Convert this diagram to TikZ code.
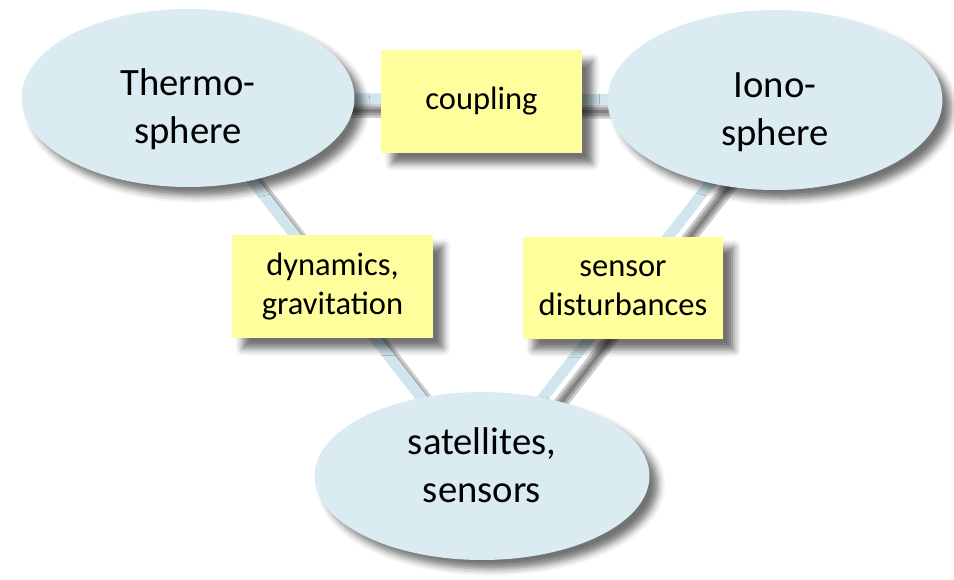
\documentclass[tikz,border=0pt]{standalone}
\usepackage{fontspec}
\setmainfont{Carlito}
\usetikzlibrary{shapes.geometric,shadows.blur,backgrounds}

\definecolor{regionblue}{HTML}{DAECF2}
\definecolor{noteyellow}{HTML}{FFFE9C}
\definecolor{linkblue}{HTML}{D0E5ED}

\begin{document}
\begin{tikzpicture}[x=0.02cm,y=-0.02cm,
    region/.style={ellipse,fill=regionblue,inner sep=0pt,align=center,
      font=\fontsize{22}{27.5}\selectfont,text height=57pt,text depth=5pt,
      blur shadow={shadow xshift=5pt,shadow yshift=-5pt,shadow blur radius=4pt,shadow opacity=55}},
    note/.style={rectangle,fill=noteyellow,minimum width=4.02cm,minimum height=2.06cm,
      inner sep=0pt,align=center,font=\fontsize{18.5}{22}\selectfont,
      blur shadow={shadow xshift=6pt,shadow yshift=-6pt,shadow blur radius=4pt,shadow opacity=55}},
    link/.style={draw=linkblue,line width=6pt},
    linkshade/.style={draw=black,line width=#1,opacity=.2,
      transform canvas={shift={(7pt,-7pt)}}}]

  \useasboundingbox (0,0) rectangle (954,579);

  % the three regions
  \node[region,minimum width=6.66cm,minimum height=3.56cm] (thermo) at (188,98) {Thermo-\\sphere};
  \node[region,minimum width=6.7cm,minimum height=3.6cm] (iono) at (775,100) {Iono-\\sphere};
  \node[region,minimum width=6.7cm,minimum height=3.36cm,text height=35.5pt]
    (sat) at (482,476) {satellites,\\sensors};

  % labels on the links
  \node[note] (coupling) at (481.5,101.5) {coupling};
  \node[note] (dyn) at (332.5,286.5) {dynamics,\\gravitation};
  \node[note] (dist) at (623,288) {sensor\\disturbances};

  \begin{scope}[on background layer]
    \foreach \w in {2pt,5pt,8pt}
      \draw[linkshade=\w] (thermo.center) -- (iono.center)
                          (thermo.center) -- (sat.center) -- (iono.center);
    \draw[link] (thermo.center) -- (iono.center)
                (thermo.center) -- (sat.center) -- (iono.center);
  \end{scope}

\end{tikzpicture}
\end{document}
